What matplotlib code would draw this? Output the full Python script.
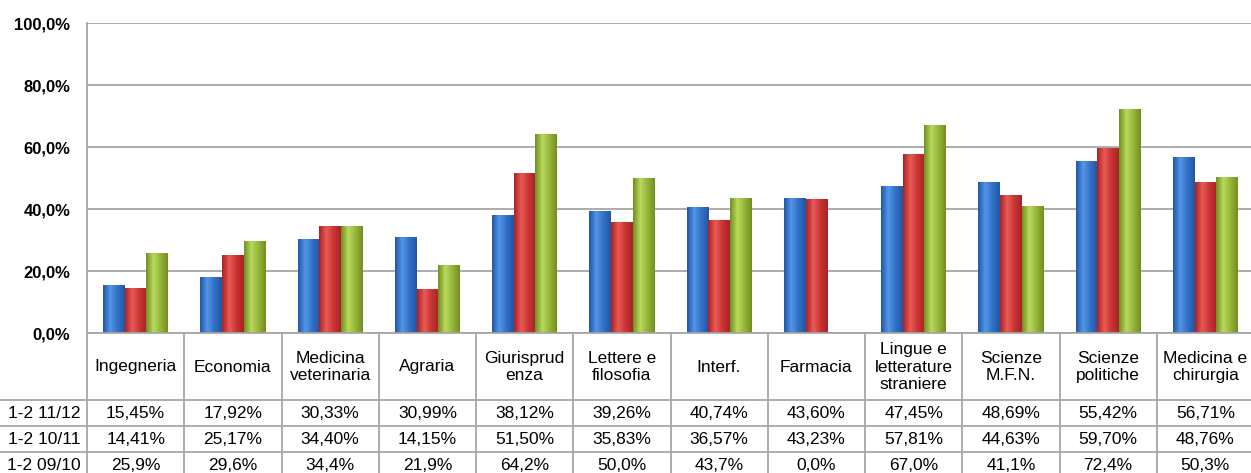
import numpy as np
import matplotlib
matplotlib.use("Agg")
import matplotlib.pyplot as plt
from matplotlib.colors import LinearSegmentedColormap

plt.rcParams['font.family'] = ['Liberation Sans', 'DejaVu Sans']

categories = ["Ingegneria", "Economia", "Medicina\nveterinaria", "Agraria",
              "Giurisprud\nenza", "Lettere e\nfilosofia", "Interf.", "Farmacia",
              "Lingue e\nletterature\nstraniere", "Scienze\nM.F.N.", "Scienze\npolitiche",
              "Medicina e\nchirurgia"]
series_names = ["1-2 11/12", "1-2 10/11", "1-2 09/10"]
v_1112 = [15.45, 17.92, 30.33, 30.99, 38.12, 39.26, 40.74, 43.60, 47.45, 48.69, 55.42, 56.71]
v_1011 = [14.41, 25.17, 34.40, 14.15, 51.50, 35.83, 36.57, 43.23, 57.81, 44.63, 59.70, 48.76]
v_0910 = [25.9, 29.6, 34.4, 21.9, 64.2, 50.0, 43.7, 0.0, 67.0, 41.1, 72.4, 50.3]
labels_1112 = ["15,45%", "17,92%", "30,33%", "30,99%", "38,12%", "39,26%", "40,74%",
               "43,60%", "47,45%", "48,69%", "55,42%", "56,71%"]
labels_1011 = ["14,41%", "25,17%", "34,40%", "14,15%", "51,50%", "35,83%", "36,57%",
               "43,23%", "57,81%", "44,63%", "59,70%", "48,76%"]
labels_0910 = ["25,9%", "29,6%", "34,4%", "21,9%", "64,2%", "50,0%", "43,7%",
               "0,0%", "67,0%", "41,1%", "72,4%", "50,3%"]
yticks = [0, 20, 40, 60, 80, 100]
ytick_labels = ["0,0%", "20,0%", "40,0%", "60,0%", "80,0%", "100,0%"]

W, H = 1251, 473
fig = plt.figure(figsize=(W / 100, H / 100), dpi=100)
fig.patch.set_facecolor("white")

x_left, x_right = 87, 1254
y_top, y_zero = 23, 333
ax = fig.add_axes([x_left / W, (H - y_zero) / H, (x_right - x_left) / W, (y_zero - y_top) / H])
n = len(categories)
grid_col = "#a6a6a6"
for sp in ["top", "right", "bottom"]:
    ax.spines[sp].set_visible(False)
ax.spines["left"].set_color(grid_col)
ax.spines["left"].set_linewidth(1.3)
ax.set_yticks(yticks)
ax.set_yticklabels(ytick_labels, fontsize=12, fontweight="bold")
ax.tick_params(axis="y", length=0, pad=12)
ax.set_xticks([])
ax.yaxis.grid(True, color=grid_col, linewidth=1.3)
ax.set_axisbelow(True)

bw = 0.223
x = np.arange(n)
series = [v_1112, v_1011, v_0910]
base_cols = [("#2356a6", "#5296e8", "#3270c4"),
             ("#a82326", "#ea5a55", "#c93434"),
             ("#728f20", "#b8d95c", "#95b53a")]
for k, (vals, cols) in enumerate(zip(series, base_cols)):
    cmap = LinearSegmentedColormap.from_list("c%d" % k, [cols[0], cols[1], cols[2], cols[0]])
    grad = np.linspace(0, 1, 64).reshape(1, -1)
    bars = ax.bar(x + (k - 1) * bw, vals, width=bw, color=cols[2], edgecolor="none", zorder=2)
    for b in bars:
        if b.get_height() <= 0:
            continue
        bx, by = b.get_x(), b.get_y()
        im = ax.imshow(grad, cmap=cmap, aspect="auto", zorder=3,
                       extent=[bx, bx + b.get_width(), by, by + b.get_height()])
        im.set_clip_path(b)
ax.set_xlim(-0.5, n - 0.5)
ax.set_ylim(0, 100)

# data table (y in pixels from the top of the picture)
tax = fig.add_axes([x_left / W, 0, (x_right - x_left) / W, (H - y_zero) / H])
tax.set_xlim(-0.5, n - 0.5)
tax.set_ylim(H, y_zero)
tax.axis("off")
px = n / (x_right - x_left)  # data units per pixel
x_fig0 = -0.5 - x_left * px
for xb in np.arange(-0.5, n, 1.0):
    tax.plot([xb, xb], [y_zero, H], color=grid_col, lw=1.3, clip_on=False)
tax.plot([-0.5, n - 0.5], [y_zero, y_zero], color=grid_col, lw=1.3, clip_on=False)
for yl in [400, 426, 452]:
    tax.plot([x_fig0, n - 0.5], [yl, yl], color=grid_col, lw=1.3, clip_on=False)

for i, c in enumerate(categories):
    tax.text(i, 367, c, ha="center", va="center", fontsize=12.5, linespacing=1.2, clip_on=False)
rows = [labels_1112, labels_1011, labels_0910]
row_y = [413.5, 439.5, 465]
for name, labs, yy in zip(series_names, rows, row_y):
    tax.text(-0.5 - 6 * px, yy, name, ha="right", va="center", fontsize=12.5, clip_on=False)
    for i, t in enumerate(labs):
        tax.text(i, yy, t, ha="center", va="center", fontsize=12.5, clip_on=False)

fig.savefig("out.png", dpi=100, facecolor="white")
